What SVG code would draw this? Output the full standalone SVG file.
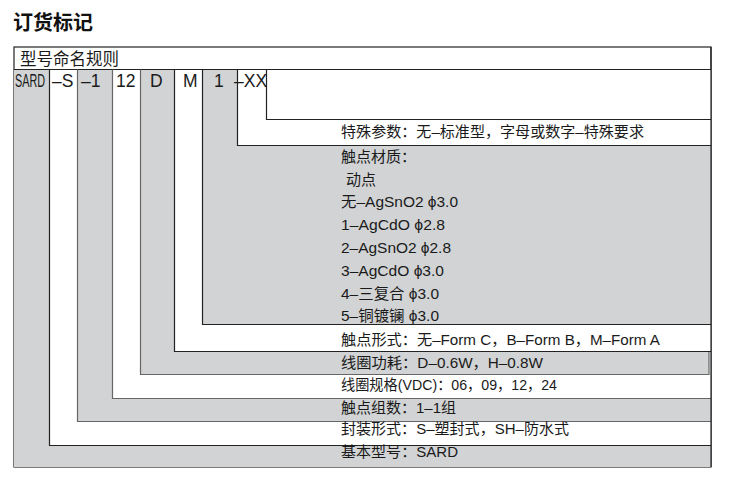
<svg xmlns="http://www.w3.org/2000/svg" width="729" height="502" viewBox="0 0 729 502">
<style>
.g{fill:#d1d3d4}
.w{fill:#ffffff}
.ln{fill:none;stroke:#222;stroke-width:1.2}
.lg{fill:none;stroke:#666;stroke-width:1.2}
.t{font-family:"Liberation Sans","Noto Sans CJK SC",sans-serif;font-size:15px;fill:#1a1a1a}
.c{font-family:"Liberation Sans","Noto Sans CJK SC",sans-serif;font-size:17.5px;fill:#1a1a1a}
.h{font-family:"Noto Sans CJK SC",sans-serif;font-size:16.5px;fill:#1a1a1a}
.ti{font-family:"Noto Sans CJK SC",sans-serif;font-size:20px;font-weight:bold;fill:#111}
</style>
<rect width="729" height="502" fill="#ffffff"/>
<g id="title"><text class="ti" x="13" y="30">订货标记</text></g>
<g id="frame">
<rect x="14" y="47" width="697" height="420" fill="#ffffff" stroke="#222" stroke-width="1.2"/>
<text class="h" x="20" y="65">型号命名规则</text>
</g>
<g id="regions">
<rect id="r-sard" class="g" x="14" y="70" width="697" height="397"/>
<rect id="r-s" class="w" x="49" y="70" width="662" height="375"/>
<rect id="r-1" class="g" x="77" y="70" width="634" height="351"/>
<rect id="r-12" class="w" x="112" y="70" width="599" height="329"/>
<rect id="r-d" class="g" x="140" y="70" width="569" height="304"/>
<rect id="r-m" class="w" x="174" y="70" width="537" height="281"/>
<rect id="r-one" class="g" x="202" y="70" width="509" height="254"/>
<rect id="r-xx" class="w" x="237" y="70" width="474" height="75"/>
<rect id="r-xxbox" class="w" x="266" y="70" width="445" height="49"/>
</g>
<g id="connectors">
<path class="ln" d="M14,69.5H711"/>
<path class="ln" d="M49.5,69.5V445.5H711"/>
<path class="lg" d="M77.5,69.5V421.5H711"/>
<path class="lg" d="M112.5,69.5V398.5H711"/>
<path class="lg" d="M140.5,69.5V374.5H709V351.5"/>
<path class="ln" d="M174.5,69.5V351.5H711"/>
<path class="ln" d="M202.5,69.5V324.5H711"/>
<path class="ln" d="M237.5,69.5V145.5H711"/>
<path class="ln" d="M266.5,69.5V119.5H711"/>
<path class="ln" d="M711,47V467"/>
</g>
<g id="code">
<text transform="translate(15,87) scale(1,1.4)" style="font-family:'Liberation Sans',sans-serif;font-size:12.5px;fill:#1a1a1a" x="0" y="0" textLength="30" lengthAdjust="spacingAndGlyphs">SARD</text>
<text class="c" x="52" y="87">–S</text>
<text class="c" x="81" y="87">–1</text>
<text class="c" x="116" y="87">12</text>
<text class="c" x="150" y="87">D</text>
<text class="c" x="183" y="87">M</text>
<text class="c" x="214" y="87">1</text>
<text class="c" x="234" y="87">–XX</text>
</g>
<g id="n-special"><text class="t" x="341" y="137" textLength="303" lengthAdjust="spacingAndGlyphs">特殊参数：无–标准型，字母或数字–特殊要求</text></g>
<g id="n-material">
<text class="t" x="341" y="162">触点材质：</text>
<text class="t" x="346" y="184.5">动点</text>
<text class="t" x="341" y="207" textLength="117" lengthAdjust="spacingAndGlyphs">无–AgSnO2 ϕ3.0</text>
<text class="t" x="341" y="229.5" textLength="104" lengthAdjust="spacingAndGlyphs">1–AgCdO ϕ2.8</text>
<text class="t" x="341" y="252.5" textLength="110" lengthAdjust="spacingAndGlyphs">2–AgSnO2 ϕ2.8</text>
<text class="t" x="341" y="275.5" textLength="103" lengthAdjust="spacingAndGlyphs">3–AgCdO ϕ3.0</text>
<text class="t" x="341" y="298.5" textLength="98" lengthAdjust="spacingAndGlyphs">4–三复合 ϕ3.0</text>
<text class="t" x="341" y="321" textLength="98" lengthAdjust="spacingAndGlyphs">5–铜镀镧 ϕ3.0</text>
</g>
<g id="n-form"><text class="t" x="341" y="345" textLength="319" lengthAdjust="spacingAndGlyphs">触点形式：无–Form C，B–Form B，M–Form A</text></g>
<g id="n-power"><text class="t" x="341" y="368" textLength="202" lengthAdjust="spacingAndGlyphs">线圈功耗：D–0.6W，H–0.8W</text></g>
<g id="n-coil"><text class="t" x="341" y="390" textLength="216" lengthAdjust="spacingAndGlyphs">线圈规格(VDC)：06，09，12，24</text></g>
<g id="n-groups"><text class="t" x="341" y="412.5" textLength="115" lengthAdjust="spacingAndGlyphs">触点组数：1–1组</text></g>
<g id="n-package"><text class="t" x="341" y="434" textLength="228" lengthAdjust="spacingAndGlyphs">封装形式：S–塑封式，SH–防水式</text></g>
<g id="n-base"><text class="t" x="341" y="457" textLength="117" lengthAdjust="spacingAndGlyphs">基本型号：SARD</text></g>
</svg>
